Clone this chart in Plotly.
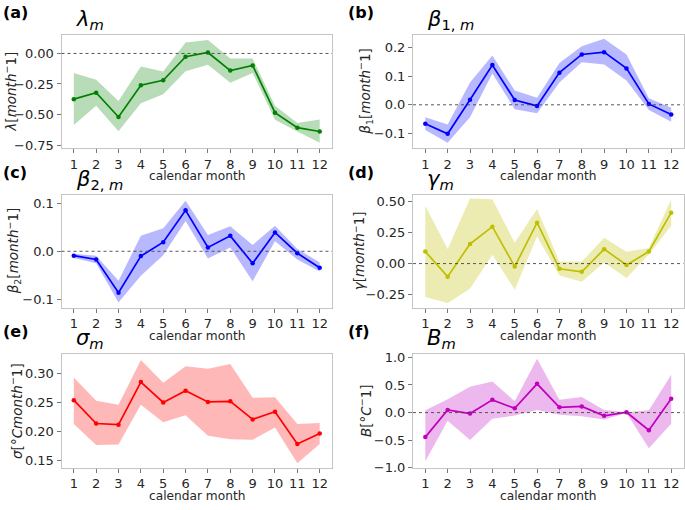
import plotly.graph_objects as go

months = list(range(1, 13))
month_labels = [str(m) for m in months]

# (a) lambda
lam = [-0.374, -0.321, -0.52, -0.26, -0.22, -0.027, 0.008, -0.14, -0.098, -0.485, -0.607, -0.639]
lam_hi = [-0.16, -0.215, -0.39, -0.106, -0.148, 0.09, 0.111, -0.042, -0.042, -0.427, -0.57, -0.54]
lam_lo = [-0.586, -0.427, -0.636, -0.408, -0.334, -0.146, -0.093, -0.239, -0.159, -0.543, -0.639, -0.731]

# (b) beta1
b1 = [-0.067, -0.102, 0.018, 0.140, 0.017, -0.004, 0.113, 0.177, 0.185, 0.128, 0.003, -0.034]
b1_hi = [-0.044, -0.069, 0.078, 0.173, 0.05, 0.025, 0.147, 0.206, 0.232, 0.177, 0.023, -0.01]
b1_lo = [-0.089, -0.133, -0.044, 0.11, -0.016, -0.03, 0.078, 0.15, 0.142, 0.085, -0.018, -0.06]

# (c) beta2
b2 = [-0.009, -0.017, -0.086, -0.010, 0.019, 0.085, 0.008, 0.032, -0.025, 0.039, -0.004, -0.034]
b2_hi = [-0.005, -0.009, -0.061, 0.032, 0.048, 0.105, 0.034, 0.052, 0.013, 0.053, 0.005, -0.023]
b2_lo = [-0.014, -0.025, -0.106, -0.051, -0.008, 0.063, -0.015, 0.008, -0.062, 0.021, -0.017, -0.042]

# (d) gamma
gam = [0.097, -0.105, 0.158, 0.297, -0.024, 0.329, -0.042, -0.066, 0.116, -0.011, 0.097, 0.41]
gam_hi = [0.466, 0.118, 0.524, 0.518, 0.168, 0.44, 0.016, 0.016, 0.208, 0.095, 0.126, 0.516]
gam_lo = [-0.268, -0.318, -0.203, 0.071, -0.21, 0.218, -0.095, -0.147, 0.008, -0.116, 0.074, 0.305]

# (e) sigma
sig = [0.254, 0.214, 0.212, 0.285, 0.25, 0.27, 0.251, 0.252, 0.221, 0.234, 0.179, 0.197]
sig_hi = [0.293, 0.253, 0.246, 0.323, 0.284, 0.312, 0.308, 0.316, 0.258, 0.259, 0.213, 0.215]
sig_lo = [0.213, 0.177, 0.178, 0.246, 0.216, 0.228, 0.193, 0.187, 0.186, 0.207, 0.146, 0.179]

# (f) B
bb = [-0.444, 0.047, -0.018, 0.231, 0.077, 0.521, 0.095, 0.112, -0.059, 0.006, -0.32, 0.249]
bb_hi = [0.041, 0.243, 0.467, 0.562, 0.207, 0.976, 0.231, 0.284, 0.047, 0.006, 0.041, 0.686]
bb_lo = [-0.882, -0.148, -0.497, -0.112, -0.053, 0.047, -0.041, -0.065, -0.124, -0.006, -0.645, -0.201]

W, H = 685, 510
FONT = "DejaVu Sans"
TXT = "#262626"

panels = [
    dict(tag="(a)", mid=lam, hi=lam_hi, lo=lam_lo, line="#008000", band="rgba(0,128,0,0.28)",
         box=(61.5, 332, 32, 147.5), yr=[-0.774, 0.149], tv=[0.0, -0.25, -0.5, -0.75], fmt=".2f",
         title="<i>λ</i><sub><i>m</i></sub>", ylab="<i>λ</i>[<i>month</i><sup>−</sup>1]", ylx=10, zero=True),
    dict(tag="(b)", mid=b1, hi=b1_hi, lo=b1_lo, line="#0000ff", band="rgba(0,0,255,0.28)",
         box=(413, 683.5, 32, 147.5), yr=[-0.152, 0.2445], tv=[0.2, 0.1, 0.0, -0.1], fmt=".1f",
         title="<i>β</i><sub>1, <i>m</i></sub>", ylab="<i>β</i><sub>1</sub>[<i>month</i><sup>−</sup>1]", ylx=365, zero=True),
    dict(tag="(c)", mid=b2, hi=b2_hi, lo=b2_lo, line="#0000ff", band="rgba(0,0,255,0.28)",
         box=(61.5, 332, 195.5, 311), yr=[-0.117, 0.117], tv=[0.1, 0.0, -0.1], fmt=".1f",
         title="<i>β</i><sub>2, <i>m</i></sub>", ylab="<i>β</i><sub>2</sub>[<i>month</i><sup>−</sup>1]", ylx=14, zero=True),
    dict(tag="(d)", mid=gam, hi=gam_hi, lo=gam_lo, line="#bfbf00", band="rgba(191,191,0,0.3)",
         box=(413, 683.5, 195.5, 311), yr=[-0.355, 0.553], tv=[0.5, 0.25, 0.0, -0.25], fmt=".2f",
         title="<i>γ</i><sub><i>m</i></sub>", ylab="<i>γ</i>[<i>month</i><sup>−</sup>1]", ylx=359, zero=True),
    dict(tag="(e)", mid=sig, hi=sig_hi, lo=sig_lo, line="#ff0000", band="rgba(255,0,0,0.28)",
         box=(61.5, 332, 358.5, 475), yr=[0.138, 0.333], tv=[0.3, 0.25, 0.2, 0.15], fmt=".2f",
         title="<i>σ</i><sub><i>m</i></sub>", ylab="<i>σ</i>[°<i>Cmonth</i><sup>−</sup>1]", ylx=16, zero=False),
    dict(tag="(f)", mid=bb, hi=bb_hi, lo=bb_lo, line="#bf00bf", band="rgba(191,0,191,0.28)",
         box=(413, 683.5, 358.5, 475), yr=[-1.0, 1.06], tv=[1.0, 0.5, 0.0, -0.5, -1.0], fmt=".1f",
         title="<i>B</i><sub><i>m</i></sub>", ylab="<i>B</i>[°<i>C</i><sup>−</sup>1]", ylx=365, zero=True),
]

fig = go.Figure()
annotations = []
shapes = []

def fx(px):
    return px / W

def fy(py):
    return 1 - py / H

for i, p in enumerate(panels):
    n = "" if i == 0 else str(i + 1)
    xa, ya = "x" + n, "y" + n
    x0, x1, y0, y1 = p["box"]
    fig.add_trace(go.Scatter(x=months, y=p["lo"], mode="lines", line=dict(width=0, color=p["band"]),
                             xaxis=xa, yaxis=ya, showlegend=False, hoverinfo="skip"))
    fig.add_trace(go.Scatter(x=months, y=p["hi"], mode="lines", line=dict(width=0, color=p["band"]),
                             fill="tonexty", fillcolor=p["band"], xaxis=xa, yaxis=ya,
                             showlegend=False, hoverinfo="skip"))
    fig.add_trace(go.Scatter(x=months, y=p["mid"], mode="lines+markers",
                             line=dict(width=1.7, color=p["line"]),
                             marker=dict(size=4.5, color=p["line"]),
                             xaxis=xa, yaxis=ya, showlegend=False))
    axcommon = dict(showline=True, mirror=True, linecolor="#c4c4c4", linewidth=1,
                    ticks="outside", ticklen=4, tickcolor="#777777", tickwidth=1,
                    showgrid=False, zeroline=False,
                    tickfont=dict(family=FONT, size=13, color=TXT))
    fig.update_layout({
        ("xaxis" + n): dict(domain=[fx(x0), fx(x1)], anchor=ya, range=[0.45, 12.55],
                            tickvals=months, ticktext=month_labels, **axcommon),
        ("yaxis" + n): dict(domain=[fy(y1), fy(y0)], anchor=xa, range=p["yr"],
                            tickvals=p["tv"], tickformat=p["fmt"], **axcommon),
    })
    if p["zero"]:
        shapes.append(dict(type="line", xref=xa + " domain", yref=ya, x0=0, x1=1, y0=0, y1=0,
                           line=dict(color="#444444", width=0.9, dash="dot"), layer="above"))
    annotations.append(dict(text="calendar month", xref="paper", yref="paper",
                            x=fx((x0 + x1) / 2), y=fy(y1 + 29), xanchor="center", yanchor="middle",
                            borderpad=0, showarrow=False, font=dict(family=FONT, size=12.2, color=TXT)))
    annotations.append(dict(text=p["ylab"], xref="paper", yref="paper",
                            x=fx(p["ylx"]), y=fy((y0 + y1) / 2), xanchor="center", yanchor="middle",
                            borderpad=0, textangle=-90, showarrow=False,
                            font=dict(family=FONT, size=13.5, color=TXT)))
    annotations.append(dict(text=p["title"], xref="paper", yref="paper",
                            x=fx(x0 + 13), y=fy(y0 - 1), xanchor="left", yanchor="bottom",
                            borderpad=0, showarrow=False, font=dict(family=FONT, size=21, color="#000000")))
    tx = 2 if x0 < 200 else 347
    annotations.append(dict(text="<b>" + p["tag"] + "</b>", xref="paper", yref="paper",
                            x=fx(tx), y=fy(y0 - 23), xanchor="left", yanchor="middle",
                            borderpad=0, showarrow=False, font=dict(family=FONT, size=16, color="#000000")))

fig.update_layout(width=W, height=H, margin=dict(l=0, r=0, t=0, b=0),
                  paper_bgcolor="white", plot_bgcolor="white",
                  annotations=annotations, shapes=shapes,
                  font=dict(family=FONT, color=TXT))

fig.write_html("out.html", config={"displayModeBar": False},
               post_script="document.body.style.margin='0';document.body.style.overflow='hidden';")
